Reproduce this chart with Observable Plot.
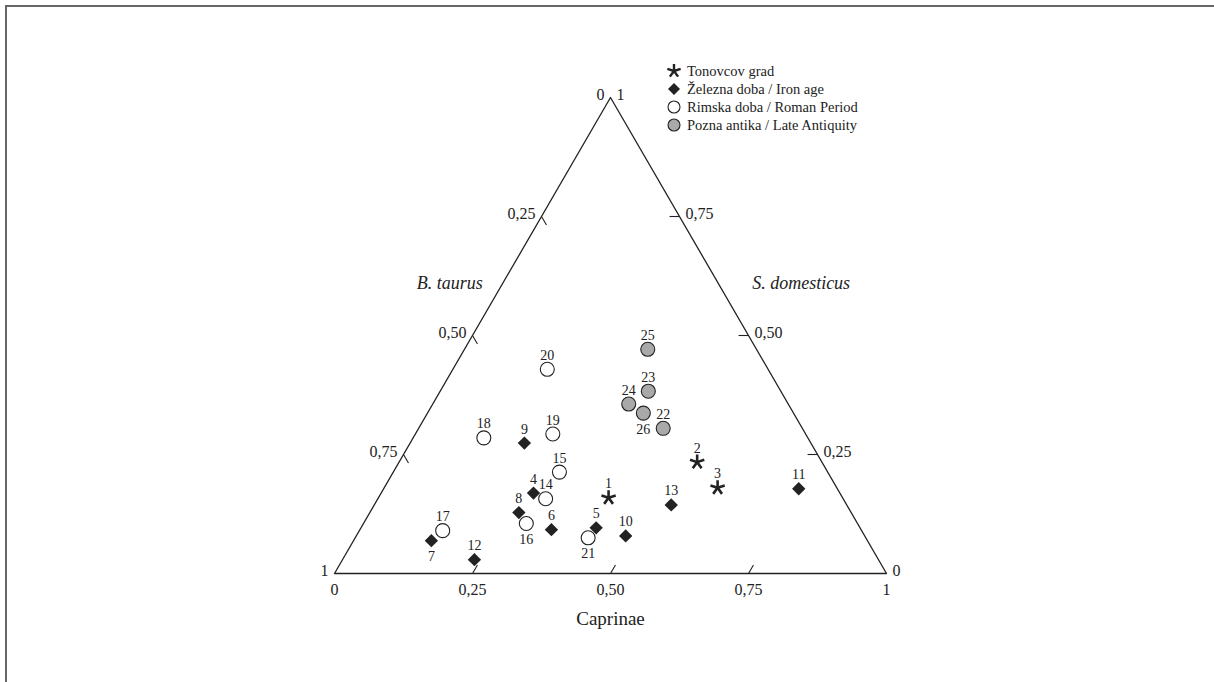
<!DOCTYPE html>
<html><head><meta charset="utf-8">
<script src="https://cdn.jsdelivr.net/npm/d3@7"></script>
<script src="https://cdn.jsdelivr.net/npm/@observablehq/plot@0.6"></script>
<style>
body{margin:0;background:#fff;}
#wrap{position:relative;width:1214px;height:682px;overflow:hidden;font-family:"Liberation Serif","Times New Roman",serif;color:#222;}
#frame{position:absolute;left:5px;top:5px;width:1400px;height:900px;border-top:2px solid #666;border-left:2px solid #666;pointer-events:none;}
#chart{position:absolute;left:0;top:0;}
#legend{position:absolute;left:664px;top:62px;font-size:14.5px;line-height:18px;}
#legend .row{display:flex;align-items:center;height:18px;}
#legend svg{width:20px;height:18px;margin-right:3px;}
</style></head>
<body><div id="wrap"><div id="chart"></div><div id="legend"></div><div id="frame"></div></div>
<script>
// ---- data ----
const ids        = [1,2,3,4,5,6,7,8,9,10,11,12,13,14,15,16,17,18,19,20,21,22,23,24,25,26];
const taurus     = [0.424,0.226,0.216,0.555,0.478,0.561,0.790,0.602,0.519,0.433,0.070,0.732,0.318,0.539,0.486,0.600,0.759,0.587,0.458,0.400,0.503,0.252,0.240,0.289,0.197,0.272];
const caprinae   = [0.417,0.540,0.604,0.276,0.426,0.347,0.141,0.270,0.207,0.488,0.752,0.239,0.538,0.304,0.301,0.295,0.151,0.128,0.249,0.171,0.422,0.443,0.377,0.355,0.332,0.391];
const domesticus = [0.159,0.234,0.180,0.169,0.096,0.092,0.069,0.128,0.274,0.079,0.178,0.029,0.144,0.157,0.213,0.105,0.090,0.285,0.293,0.429,0.075,0.305,0.383,0.356,0.471,0.337];
const groupNames = ["Tonovcov grad","Železna doba / Iron age","Rimska doba / Roman Period","Pozna antika / Late Antiquity"];
const groupOf    = [0,0,0,1,1,1,1,1,1,1,1,1,1,2,2,2,2,2,2,2,2,3,3,3,3,3];
const tickValues = [0,0.25,0.5,0.75,1];
const tickLabels = ["0","0,25","0,50","0,75","1"];
const axisTitles = ["Caprinae","B. taurus","S. domesticus"];

// ---- ternary projection ----
const SQ = Math.sqrt(3)/2;
const tx = (b,c,s) => (c + s/2)/(b+c+s);
const ty = (b,c,s) => (s*SQ)/(b+c+s);

const pts = ids.map((id,i)=>({id, g:groupOf[i], x:tx(taurus[i],caprinae[i],domesticus[i]), y:ty(taurus[i],caprinae[i],domesticus[i])}));
const below = new Set([7,16,21,26]);

const tri = [[1,0,0],[0,1,0],[0,0,1],[1,0,0]].map(([b,c,s])=>({x:tx(b,c,s),y:ty(b,c,s)}));
const L = 0.018;
const inner = tickValues.filter(v=>v>0&&v<1);
const ticks = [];
inner.forEach(v=>{
  ticks.push({x1:tx(1-v,v,0),y1:ty(1-v,v,0),x2:tx(1-v-L,v,L),y2:ty(1-v-L,v,L)});           // bottom (Caprinae)
  ticks.push({x1:tx(v,0,1-v),y1:ty(v,0,1-v),x2:tx(v,L,1-v-L),y2:ty(v,L,1-v-L)});           // left (B. taurus)
  ticks.push({x1:tx(0,1-v,v),y1:ty(0,1-v,v),x2:tx(L,1-v-L,v),y2:ty(L,1-v-L,v)});           // right (S. domesticus)
});
const bottomLab = tickValues.map((v,i)=>({t:tickLabels[i], x:tx(1-v,v,0), y:ty(1-v,v,0)}));
const leftLab   = tickValues.map((v,i)=>({t:tickLabels[i], x:tx(v,0,1-v), y:ty(v,0,1-v)}));
const rightLab  = tickValues.map((v,i)=>({t:tickLabels[i], x:tx(0,1-v,v), y:ty(0,1-v,v)}));

const star5 = {draw(ctx,size){const r=Math.sqrt(size/Math.PI);for(let k=0;k<5;k++){const a=-Math.PI/2+k*2*Math.PI/5;ctx.moveTo(0,0);ctx.lineTo(r*Math.cos(a),r*Math.sin(a));}}};
const INK = "#222";
const GRAY = "#a9a9a9";
const font = "Liberation Serif";

const chart = Plot.plot({
  width:1214, height:682, margin:0,
  x:{domain:[0,1], range:[334,886], axis:null},
  y:{domain:[0,SQ], range:[573,97], axis:null},
  style:{fontFamily:font, background:"transparent", color:INK},
  marks:[
    Plot.line(tri,{x:"x",y:"y",stroke:INK,strokeWidth:1.3}),
    Plot.link(ticks,{x1:"x1",y1:"y1",x2:"x2",y2:"y2",stroke:INK,strokeWidth:1.1}),
    Plot.text(bottomLab,{x:"x",y:"y",text:"t",dy:16,fontSize:16,fill:INK}),
    Plot.text(leftLab,{x:"x",y:"y",text:"t",dx:-6,dy:-3,textAnchor:"end",fontSize:16,fill:INK}),
    Plot.text(rightLab,{x:"x",y:"y",text:"t",dx:6,dy:-3,textAnchor:"start",fontSize:16,fill:INK}),
    Plot.text([{t:axisTitles[0],x:tx(0.5,0.5,0),y:ty(0.5,0.5,0)}],{x:"x",y:"y",text:"t",dy:45,fontSize:19,fill:INK}),
    Plot.text([{t:axisTitles[1],x:tx(0.39,0,0.61),y:ty(0.39,0,0.61)}],{x:"x",y:"y",text:"t",dx:-20,textAnchor:"end",fontSize:18,fontStyle:"italic",fill:INK}),
    Plot.text([{t:axisTitles[2],x:tx(0,0.39,0.61),y:ty(0,0.39,0.61)}],{x:"x",y:"y",text:"t",dx:34,textAnchor:"start",fontSize:18,fontStyle:"italic",fill:INK}),
    Plot.dot(pts.filter(d=>d.g===2),{x:"x",y:"y",r:7,fill:"white",stroke:INK,strokeWidth:1.1}),
    Plot.dot(pts.filter(d=>d.g===3),{x:"x",y:"y",r:7,fill:GRAY,stroke:INK,strokeWidth:1.1}),
    Plot.dot(pts.filter(d=>d.g===1),{x:"x",y:"y",r:6,symbol:"diamond2",fill:INK,stroke:"none"}),
    Plot.dot(pts.filter(d=>d.g===0),{x:"x",y:"y",r:7.5,symbol:star5,fill:"none",stroke:INK,strokeWidth:2.6}),
    Plot.text(pts.filter(d=>!below.has(d.id)),{x:"x",y:"y",text:"id",dy:-14,fontSize:14,fill:INK}),
    Plot.text(pts.filter(d=>below.has(d.id)),{x:"x",y:"y",text:"id",dy:16,fontSize:14,fill:INK})
  ]
});
document.getElementById("chart").appendChild(chart);

// ---- legend ----
const legend = document.getElementById("legend");
const syms = [
  `<g stroke="${INK}" stroke-width="2.4">${[0,1,2,3,4].map(k=>{const a=-Math.PI/2+k*2*Math.PI/5;return `<line x1="10" y1="9" x2="${10+7*Math.cos(a)}" y2="${9+7*Math.sin(a)}"/>`}).join("")}</g>`,
  `<path d="M10,3L16,9L10,15L4,9Z" fill="${INK}"/>`,
  `<circle cx="10" cy="9" r="6" fill="white" stroke="${INK}" stroke-width="1.1"/>`,
  `<circle cx="10" cy="9" r="6" fill="${GRAY}" stroke="${INK}" stroke-width="1.1"/>`
];
groupNames.forEach((name,i)=>{
  const row=document.createElement("div");row.className="row";
  row.innerHTML=`<svg viewBox="0 0 20 18">${syms[i]}</svg><span>${name}</span>`;
  legend.appendChild(row);
});
</script></body></html>
